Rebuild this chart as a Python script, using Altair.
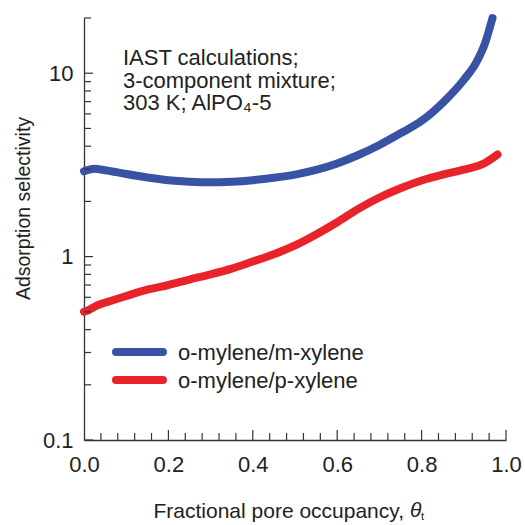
import altair as alt
import pandas as pd

# ---- data ----
theta_mx = [0.0, 0.01, 0.025, 0.05, 0.1, 0.15, 0.2, 0.25, 0.3, 0.35, 0.4, 0.45,
            0.5, 0.55, 0.6, 0.65, 0.7, 0.75, 0.8, 0.85, 0.9, 0.93, 0.95, 0.968]
sel_mx = [2.92, 2.97, 3.01, 2.96, 2.82, 2.70, 2.61, 2.56, 2.54, 2.56, 2.61, 2.69,
          2.80, 2.97, 3.22, 3.58, 4.06, 4.70, 5.50, 6.90, 9.20, 11.5, 14.5, 20.0]

theta_px = [0.0, 0.01, 0.03, 0.07, 0.1, 0.15, 0.2, 0.25, 0.3, 0.35, 0.4, 0.45,
            0.5, 0.55, 0.6, 0.65, 0.7, 0.75, 0.8, 0.85, 0.9, 0.95, 0.98]
sel_px = [0.50, 0.51, 0.54, 0.58, 0.61, 0.66, 0.70, 0.75, 0.80, 0.86, 0.94, 1.03,
          1.15, 1.32, 1.54, 1.82, 2.10, 2.36, 2.60, 2.80, 2.98, 3.24, 3.60]

series_names = ["o-mylene/m-xylene", "o-mylene/p-xylene"]
series_colors = ["#3953A4", "#E8232A"]

x_major = [0.0, 0.2, 0.4, 0.6, 0.8, 1.0]
x_minor = [0.04, 0.08, 0.12, 0.16, 0.24, 0.28, 0.32, 0.36, 0.44, 0.48, 0.52, 0.56,
           0.64, 0.68, 0.72, 0.76, 0.84, 0.88, 0.92, 0.96]
y_major = [0.1, 1, 10]
y_minor = [0.2, 0.3, 0.4, 0.5, 0.6, 0.7, 0.8, 0.9, 2, 3, 4, 5, 6, 7, 8, 9, 20]

annotation = ["IAST calculations;", "3-component mixture;", "303 K; AlPO\u2084-5"]

# ---- tables ----
df = pd.concat([
    pd.DataFrame({"theta": theta_mx, "sel": sel_mx, "series": series_names[0]}),
    pd.DataFrame({"theta": theta_px, "sel": sel_px, "series": series_names[1]}),
])

W, H = 422, 422
FONT = "Liberation Sans"
INK = "#222222"

xscale = alt.Scale(domain=[0, 1], nice=False, zero=False)
yscale = alt.Scale(type="log", domain=[0.1, 20], nice=False)
cscale = alt.Scale(domain=series_names, range=series_colors)

lines = alt.Chart(df).mark_line(strokeWidth=8, strokeCap="round", strokeJoin="round",
                                interpolate="monotone").encode(
    x=alt.X("theta:Q", scale=xscale,
            axis=alt.Axis(values=x_major, format=".1f", ticks=False, grid=False,
                          labelFlush=False, labelOverlap=False,
                          labelFontSize=22, labelFont=FONT, labelColor=INK, labelPadding=14,
                          domainColor="#333333", domainWidth=1.3,
                          title="Fractional pore occupancy,", titleFont=FONT,
                          titleFontSize=21, titleFontWeight="normal", titleColor=INK,
                          titleAlign="left", titleAnchor="start", titleX=69, titleY=77,
                          titleBaseline="alphabetic")),
    y=alt.Y("sel:Q", scale=yscale,
            axis=alt.Axis(values=y_major, format="~g", ticks=False, grid=False,
                          labelFlush=False, labelOverlap=False,
                          labelFontSize=22, labelFont=FONT, labelColor=INK, labelPadding=11,
                          domainColor="#333333", domainWidth=1.3,
                          title="Adsorption selectivity", titleFont=FONT,
                          titleFontSize=19.5, titleFontWeight="normal", titleColor=INK,
                          titleAngle=-90, titleAlign="center", titleX=-55, titleY=190,
                          titleBaseline="alphabetic")),
    color=alt.Color("series:N", scale=cscale, legend=None),
    detail="series:N",
)

tick_col = "#333333"
xmaj = alt.Chart(pd.DataFrame({"v": x_major[1:]})).mark_rule(color=tick_col, strokeWidth=1.2).encode(
    x=alt.X("v:Q", scale=xscale), y=alt.value(H), y2=alt.value(H - 10))
xmin = alt.Chart(pd.DataFrame({"v": x_minor})).mark_rule(color=tick_col, strokeWidth=1.2).encode(
    x=alt.X("v:Q", scale=xscale), y=alt.value(H), y2=alt.value(H - 7))
ymaj = alt.Chart(pd.DataFrame({"v": y_major})).mark_rule(color=tick_col, strokeWidth=1.2).encode(
    y=alt.Y("v:Q", scale=yscale), x=alt.value(0), x2=alt.value(9))
ymin = alt.Chart(pd.DataFrame({"v": y_minor})).mark_rule(color=tick_col, strokeWidth=1.2).encode(
    y=alt.Y("v:Q", scale=yscale), x=alt.value(0), x2=alt.value(7))

theta_sym = alt.Chart(pd.DataFrame({"t": ["\u03b8"]})).mark_text(
    font=FONT, fontSize=21, fontStyle="italic", color=INK, align="left", baseline="alphabetic"
).encode(text="t:N", x=alt.value(W - 96), y=alt.value(H + 77))
theta_sub = alt.Chart(pd.DataFrame({"t": ["t"]})).mark_text(
    font=FONT, fontSize=11, color=INK, align="left", baseline="alphabetic"
).encode(text="t:N", x=alt.value(W - 85), y=alt.value(H + 80))

ann = alt.Chart(pd.DataFrame({"t": ["ann"]})).mark_text(
    font=FONT, fontSize=22, color=INK, align="left", baseline="alphabetic", lineHeight=22.5
).encode(text=alt.value(annotation), x=alt.value(123 - 84), y=alt.value(65 - 18))

legend_y = [352 - 18, 380 - 18]
legend_layers = []
for name, color, ly in zip(series_names, series_colors, legend_y):
    one = pd.DataFrame({"series": [name]})
    legend_layers.append(
        alt.Chart(one).mark_rule(strokeWidth=8, strokeCap="round", color=color).encode(
            x=alt.value(112 - 84 + 4), x2=alt.value(167 - 84 - 4), y=alt.value(ly)))
    legend_layers.append(
        alt.Chart(one).mark_text(font=FONT, fontSize=22, color=INK, align="left",
                                 baseline="middle", dy=1).encode(
            x=alt.value(178 - 84), y=alt.value(ly), text="series:N"))

chart = alt.layer(lines, xmaj, xmin, ymaj, ymin, theta_sym, theta_sub, ann,
                  *legend_layers).properties(
    width=W, height=H,
    autosize=alt.AutoSizeParams(type="none"),
    padding={"left": 84, "top": 18, "right": 19, "bottom": 85},
    background="white",
).configure_view(stroke=None)

chart.save("out.html", embed_options={"renderer": "svg", "actions": False})
